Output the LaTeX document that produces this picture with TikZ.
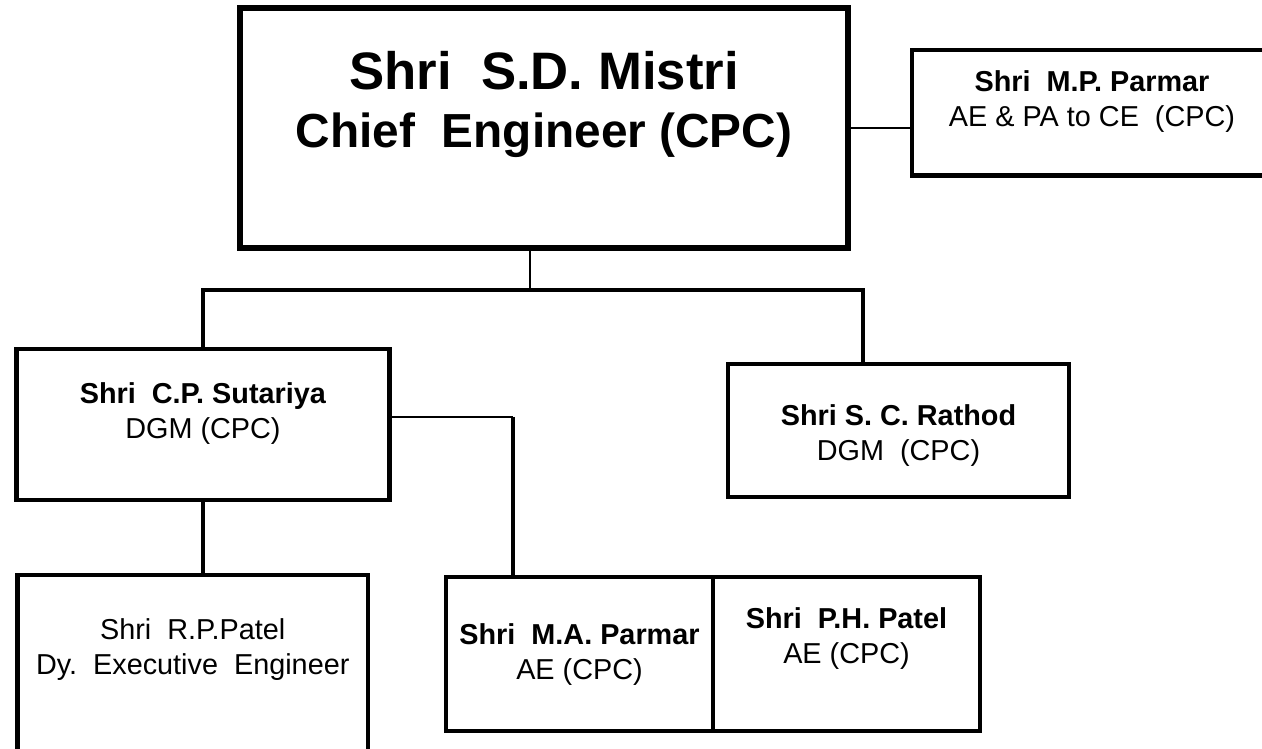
\documentclass[tikz,border=0pt]{standalone}
\usepackage{fontspec}
\setmainfont{Liberation Sans}
\usepackage{tkz-euclide}
\usetikzlibrary{calc}
\definecolor{LineClr}{rgb}{0,0,0}
\tikzset{
  boss/.style={draw=LineClr,line width=3.4pt,rectangle,inner sep=0pt},
  post/.style={draw=LineClr,line width=2.4pt,rectangle,inner sep=0pt},
  who/.style={align=center,inner sep=0pt,anchor=base,font=\fontsize{16.4}{20}\selectfont},
  link/.style={line width=2.3pt,color=LineClr},
  tie/.style={line width=1.3pt,color=LineClr}
}
\frenchspacing

\begin{document}
\begin{tikzpicture}[x=0.02cm,y=-0.02cm]
\useasboundingbox (0,0) rectangle (1262,749);
\clip (0,0) rectangle (1262,749);

\tkzDefPoints{544/128/C,1092/112.75/P,203/424.5/S,898.5/430.5/R,192.75/682.5/D,579.5/654/M,846.5/654/H}
\tkzDefPoints{544/148/C1,1092/127/P1,203/439/S1,898.5/461/R1,192.75/675/D1,579.5/680/M1,846.5/664/H1}
\tkzDefPoints{530/290/J,863/290/K,513/417/L}

\node[boss,minimum width=12.16cm,minimum height=4.8cm] (CE) at (C) {};
\node[post,minimum width=7.2cm,minimum height=2.51cm] (PA) at (P) {};
\node[post,minimum width=7.46cm,minimum height=3.02cm] (SU) at (S) {};
\node[post,minimum width=6.82cm,minimum height=2.66cm] (RA) at (R) {};
\node[post,minimum width=7.01cm,minimum height=4.3cm] (RP) at (D) {};
\node[post,minimum width=5.34cm,minimum height=3.08cm] (MA) at (M) {};
\node[post,minimum width=5.34cm,minimum height=3.08cm] (PH) at (H) {};

\node[who,font=\bfseries\fontsize{27.2}{33.4}\selectfont] (tCE) at (C1)
  {{\fontsize{30}{33.4}\selectfont Shri\ \ S.D. Mistri}\\Chief\ \ Engineer (CPC)};
\node[who] (tPA) at (P1) {\textbf{Shri\ \ M.P. Parmar}\\AE \& PA to CE\ \ (CPC)};
\node[who] (tSU) at (S1) {\textbf{Shri\ \ C.P. Sutariya}\\DGM (CPC)};
\node[who] (tRA) at (R1) {\textbf{Shri S. C. Rathod}\\DGM\ \ (CPC)};
\node[who] (tRP) at (D1) {Shri\ \ R.P.Patel\\Dy.\ \ Executive\ \ Engineer};
\node[who] (tMA) at (M1) {\textbf{Shri\ \ M.A. Parmar}\\AE (CPC)};
\node[who] (tPH) at (H1) {\textbf{Shri\ \ P.H. Patel}\\AE (CPC)};

\draw[tie] (CE.east) -- (CE.east -| PA.west);
\draw[tie] (CE.south -| J) -- (J);
\draw[link] (SU.north) |- (K) -- (K |- RA.north);
\draw[tie] (SU.east |- L) -- (L);
\draw[link] (L) -- (L |- MA.north);
\draw[link] (SU.south) -- (SU.south |- RP.north);

\end{tikzpicture}
\end{document}
